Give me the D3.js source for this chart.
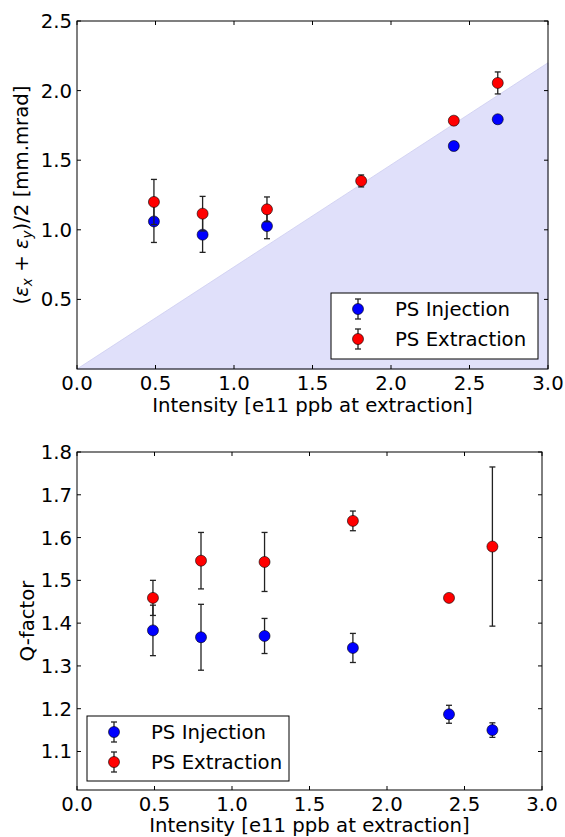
<!DOCTYPE html>
<html>
<head>
<meta charset="utf-8">
<script src="https://cdn.jsdelivr.net/npm/d3@7"></script>
<style>
  body { margin: 0; background: #fff; }
  svg { display: block; font-family: "DejaVu Sans", sans-serif; }
</style>
</head>
<body>
<svg id="chart" width="565" height="837"></svg>
<script>
// ---- Data ----
const seriesNames = ["PS Injection", "PS Extraction"];
const seriesColors = ["#0000ff", "#ff0000"];

// Top panel: emittance vs intensity
const topX = [0.49, 0.80, 1.21, 1.81, 2.40, 2.68];
const topInj = [1.06, 0.965, 1.027, null, 1.602, 1.794];
const topInjErr = [0.151, 0.127, 0.091, null, 0.03, 0.012];
const topExt = [1.20, 1.116, 1.147, 1.351, 1.784, 2.055];
const topExtErr = [0.162, 0.124, 0.089, 0.043, 0.029, 0.079];
const fillX = [0.0, 3.0];
const fillY = [0.0, 2.2];
const topXTicks = [0.0, 0.5, 1.0, 1.5, 2.0, 2.5, 3.0];
const topYTicks = [0.5, 1.0, 1.5, 2.0, 2.5];

// Bottom panel: Q-factor vs intensity
const botX = [0.49, 0.80, 1.21, 1.78, 2.40, 2.68];
const botInj = [1.383, 1.367, 1.370, 1.342, 1.187, 1.150];
const botInjErr = [0.059, 0.077, 0.041, 0.034, 0.021, 0.017];
const botExt = [1.459, 1.546, 1.543, 1.639, 1.459, 1.579];
const botExtErr = [0.041, 0.066, 0.069, 0.023, 0.005, 0.186];
const botXTicks = [0.0, 0.5, 1.0, 1.5, 2.0, 2.5, 3.0];
const botYTicks = [1.1, 1.2, 1.3, 1.4, 1.5, 1.6, 1.7, 1.8];

const xLabel = "Intensity [e11 ppb at extraction]";

// ---- Drawing ----
const svg = d3.select("#chart");
const FS = 19.7;

function panel(cfg) {
  const g = svg.append("g");
  const x = d3.scaleLinear().domain(cfg.xDomain).range([cfg.left, cfg.right]);
  const y = d3.scaleLinear().domain(cfg.yDomain).range([cfg.bottom, cfg.top]);

  if (cfg.fill) {
    const pts = cfg.fill.x.map((v, i) => [v, cfg.fill.y[i]]);
    const area = d3.area().x(d => x(d[0])).y0(y(cfg.yDomain[0])).y1(d => y(d[1]));
    g.append("path").datum(pts).attr("d", area)
      .attr("fill", "rgb(224,224,250)").attr("stroke", "rgb(205,205,240)").attr("stroke-width", 0.8);
  }

  // ticks (inward, all four sides)
  const tl = 4;
  const tickG = g.append("g").attr("stroke", "#000").attr("stroke-width", 1);
  cfg.xTicks.forEach(t => {
    const px = x(t);
    tickG.append("line").attr("x1", px).attr("x2", px).attr("y1", cfg.bottom).attr("y2", cfg.bottom - tl);
    tickG.append("line").attr("x1", px).attr("x2", px).attr("y1", cfg.top).attr("y2", cfg.top + tl);
  });
  cfg.yTicks.forEach(t => {
    const py = y(t);
    tickG.append("line").attr("y1", py).attr("y2", py).attr("x1", cfg.left).attr("x2", cfg.left + tl);
    tickG.append("line").attr("y1", py).attr("y2", py).attr("x1", cfg.right).attr("x2", cfg.right - tl);
  });

  // tick labels
  g.append("g").selectAll("text").data(cfg.xTicks).join("text")
    .attr("x", d => x(d)).attr("y", cfg.bottom + 21)
    .attr("text-anchor", "middle").attr("font-size", FS).attr("fill", "#000")
    .text(d => d3.format(".1f")(d));
  g.append("g").selectAll("text").data(cfg.yTicks).join("text")
    .attr("x", cfg.left - 5).attr("y", d => y(d) + 7)
    .attr("text-anchor", "end").attr("font-size", FS).attr("fill", "#000")
    .text(d => d3.format(".1f")(d));

  // series
  const series = [
    { v: cfg.inj, e: cfg.injErr, c: seriesColors[0] },
    { v: cfg.ext, e: cfg.extErr, c: seriesColors[1] }
  ];
  series.forEach(s => {
    const data = cfg.xs.map((xv, i) => ({ x: xv, y: s.v[i], e: s.e[i] })).filter(d => d.y != null);
    const eg = g.append("g").attr("stroke", "#222").attr("stroke-width", 1.3);
    data.forEach(d => {
      const px = x(d.x), y1 = y(d.y - d.e), y2 = y(d.y + d.e);
      eg.append("line").attr("x1", px).attr("x2", px).attr("y1", y1).attr("y2", y2);
      eg.append("line").attr("x1", px - 3).attr("x2", px + 3).attr("y1", y1).attr("y2", y1);
      eg.append("line").attr("x1", px - 3).attr("x2", px + 3).attr("y1", y2).attr("y2", y2);
    });
    g.append("g").selectAll("circle").data(data).join("circle")
      .attr("cx", d => x(d.x)).attr("cy", d => y(d.y)).attr("r", 5.5)
      .attr("fill", s.c).attr("stroke", "#000").attr("stroke-width", 0.6);
  });

  // frame
  g.append("rect").attr("x", cfg.left).attr("y", cfg.top)
    .attr("width", cfg.right - cfg.left).attr("height", cfg.bottom - cfg.top)
    .attr("fill", "none").attr("stroke", "#000").attr("stroke-width", 1);

  // legend
  const L = cfg.legend;
  const lg = g.append("g");
  lg.append("rect").attr("x", L.x).attr("y", L.y).attr("width", L.w).attr("height", L.h)
    .attr("fill", "#fff").attr("stroke", "#000").attr("stroke-width", 1);
  seriesNames.forEach((name, i) => {
    const cy = L.y + 16 + i * 30;
    const mx = L.x + 27;
    const el = lg.append("g").attr("stroke", "#222").attr("stroke-width", 1.3);
    el.append("line").attr("x1", mx).attr("x2", mx).attr("y1", cy - 10).attr("y2", cy + 10);
    el.append("line").attr("x1", mx - 3).attr("x2", mx + 3).attr("y1", cy - 10).attr("y2", cy - 10);
    el.append("line").attr("x1", mx - 3).attr("x2", mx + 3).attr("y1", cy + 10).attr("y2", cy + 10);
    lg.append("circle").attr("cx", mx).attr("cy", cy).attr("r", 5.5)
      .attr("fill", seriesColors[i]).attr("stroke", "#000").attr("stroke-width", 0.6);
    lg.append("text").attr("x", L.x + 64).attr("y", cy + 7).attr("font-size", FS).attr("fill", "#000").text(name);
  });

  // x label
  g.append("text").attr("x", (cfg.left + cfg.right) / 2).attr("y", cfg.xLabelY)
    .attr("text-anchor", "middle").attr("font-size", FS).attr("fill", "#000").text(xLabel);

  return { g, x, y };
}

panel({
  left: 77, right: 548, top: 21, bottom: 369,
  xDomain: [0, 3], yDomain: [0, 2.5],
  xTicks: topXTicks, yTicks: topYTicks,
  xs: topX, inj: topInj, injErr: topInjErr, ext: topExt, extErr: topExtErr,
  fill: { x: fillX, y: fillY },
  legend: { x: 331, y: 293, w: 207, h: 66 },
  xLabelY: 412
});

// top y label with math
const yl = svg.append("text").attr("transform", "translate(28,195) rotate(-90)")
  .attr("text-anchor", "middle").attr("font-size", FS).attr("fill", "#000");
yl.append("tspan").text("(");
yl.append("tspan").attr("font-style", "italic").text("ε");
yl.append("tspan").attr("font-style", "italic").attr("font-size", 13.5).attr("dy", 4).text("x");
yl.append("tspan").attr("dy", -4).text(" + ");
yl.append("tspan").attr("font-style", "italic").text("ε");
yl.append("tspan").attr("font-style", "italic").attr("font-size", 13.5).attr("dy", 4).text("y");
yl.append("tspan").attr("dy", -4).text(")/2 [mm.mrad]");

panel({
  left: 77, right: 542, top: 452, bottom: 790,
  xDomain: [0, 3], yDomain: [1.01, 1.8],
  xTicks: botXTicks, yTicks: botYTicks,
  xs: botX, inj: botInj, injErr: botInjErr, ext: botExt, extErr: botExtErr,
  fill: null,
  legend: { x: 87, y: 716, w: 202, h: 65 },
  xLabelY: 832
});

svg.append("text").attr("transform", "translate(34,621) rotate(-90)")
  .attr("text-anchor", "middle").attr("font-size", FS).attr("fill", "#000").text("Q-factor");
</script>
</body>
</html>
